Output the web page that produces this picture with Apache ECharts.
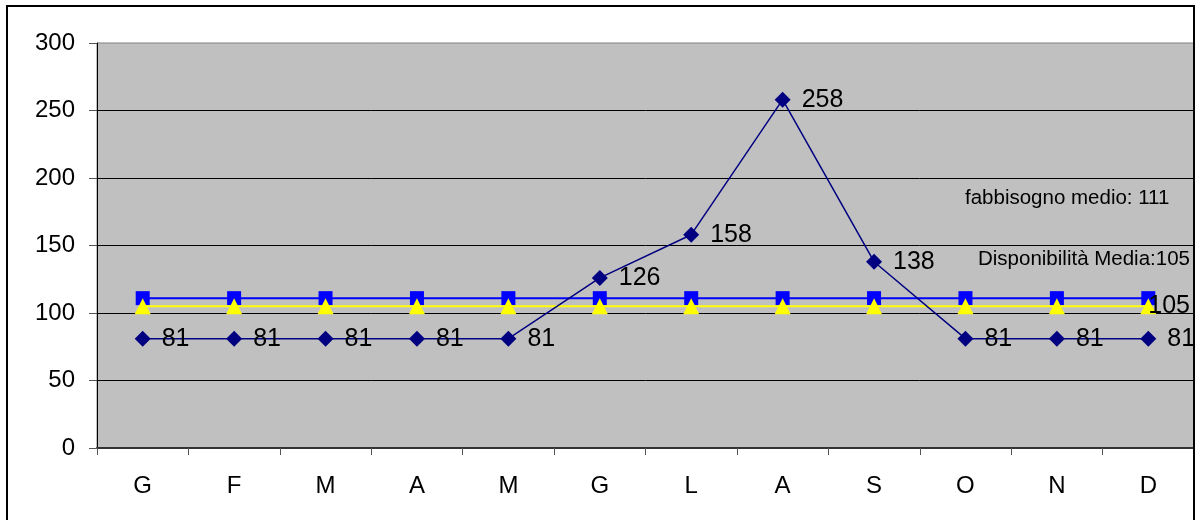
<!DOCTYPE html>
<html><head><meta charset="utf-8">
<script src="https://cdn.jsdelivr.net/npm/echarts@6/dist/echarts.min.js"></script>
<style>html,body{margin:0;padding:0;background:#fff}#c{width:1203px;height:520px}</style>
</head><body><div id="c"></div>
<script>
const months = ['G','F','M','A','M','G','L','A','S','O','N','D'];
const fabbisogno = [111,111,111,111,111,111,111,111,111,111,111,111];
const disponibilita = [105,105,105,105,105,105,105,105,105,105,105,105];
const consumi = [81,81,81,81,81,126,158,258,138,81,81,81];
const yTicks = [0,50,100,150,200,250,300];
const noteFabbisogno = 'fabbisogno medio: 111';
const noteDisponibilita = 'Disponibilità Media:105';

const chart = echarts.init(document.getElementById('c'));
const font = 'Liberation Sans, Arial, sans-serif';
chart.setOption({
  animation:false,
  grid:{left:97,right:9,top:43,bottom:72,show:true,backgroundColor:'#C0C0C0',borderColor:'#808080',borderWidth:1},
  xAxis:{type:'category',data:months,boundaryGap:true,
    axisLine:{lineStyle:{color:'#333',width:2}},
    axisTick:{show:true,length:7,lineStyle:{color:'#555'}},
    axisLabel:{color:'#000',fontSize:24,fontFamily:font,margin:26}},
  yAxis:{type:'value',min:yTicks[0],max:yTicks[yTicks.length-1],interval:50,
    axisLine:{show:true,lineStyle:{color:'#000',width:1}},
    axisTick:{show:true,length:8,lineStyle:{color:'#555'}},
    axisLabel:{color:'#000',fontSize:24,fontFamily:font,margin:22},
    splitLine:{show:true,showMinLine:false,showMaxLine:false,lineStyle:{color:'#000',width:1}}},
  series:[
    {name:'fabbisogno',type:'line',data:fabbisogno,symbol:'rect',symbolSize:14,
      lineStyle:{color:'#0000FF',width:2},itemStyle:{color:'#0000FF'},z:2},
    {name:'disponibilita',type:'line',data:disponibilita,symbol:'triangle',symbolSize:16,
      lineStyle:{color:'#FFFF00',width:2},itemStyle:{color:'#FFFF00'},z:3,
      label:{show:true,position:'right',distance:-8,color:'#000',fontSize:25,fontFamily:font,
        formatter:p=>p.dataIndex===months.length-1?String(p.value):''}},
    {name:'consumi',type:'line',data:consumi,symbol:'diamond',symbolSize:16,
      lineStyle:{color:'#000080',width:1.5},itemStyle:{color:'#000080'},z:4,
      label:{show:true,position:'right',distance:11,color:'#000',fontSize:25,fontFamily:font}}
  ],
  graphic:[
    {type:'rect',shape:{x:7,y:6,width:1187,height:530},style:{fill:null,stroke:'#000',lineWidth:2},z:100,silent:true},
    {type:'text',left:965,top:188,style:{text:noteFabbisogno,fontSize:20.5,fontFamily:font,fill:'#000'},z:100},
    {type:'text',left:978,top:249,style:{text:noteDisponibilita,fontSize:20.5,fontFamily:font,fill:'#000'},z:100}
  ]
});
</script></body></html>
